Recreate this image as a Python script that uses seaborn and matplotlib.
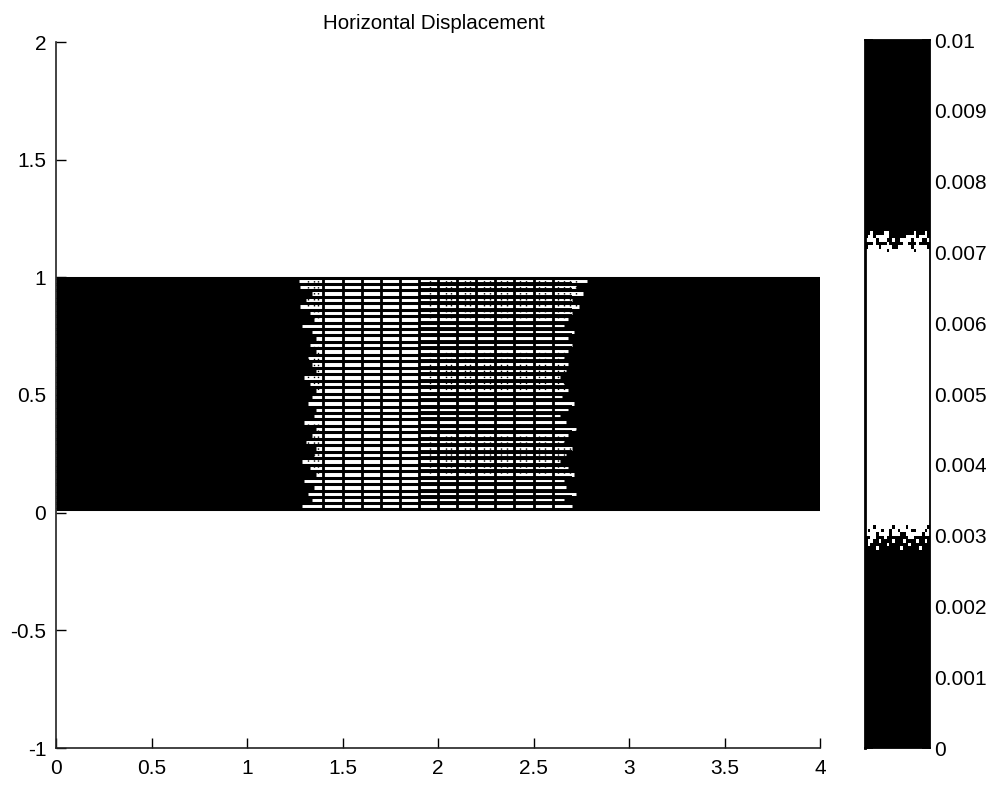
import matplotlib
matplotlib.use('Agg')
import matplotlib.pyplot as plt
import numpy as np
import pandas as pd
import seaborn as sns

sns.set_theme(style='white')
plt.rcParams['font.family'] = ['Liberation Sans', 'DejaVu Sans']
plt.rcParams['lines.solid_capstyle'] = 'butt'

title = 'Horizontal Displacement'

# mesh lines
col_x = [1.40, 1.50, 1.60, 1.70, 1.80, 1.90, 2.00, 2.10, 2.20, 2.30, 2.40, 2.50, 2.60]
row_y = [0.016, 0.039, 0.067, 0.094, 0.122, 0.149, 0.177, 0.204, 0.232, 0.259,
         0.286, 0.314, 0.341, 0.369, 0.396, 0.424, 0.451, 0.479, 0.506, 0.533,
         0.561, 0.588, 0.616, 0.643, 0.671, 0.698, 0.726, 0.753, 0.781, 0.808,
         0.835, 0.863, 0.890, 0.918, 0.945, 0.973, 0.996]
# where the solid black stops in each gap between rows, bottom to top
left_edge = [1.29, 1.34, 1.32, 1.35, 1.30, 1.36, 1.33, 1.29, 1.35, 1.36, 1.31, 1.34,
             1.36, 1.30, 1.35, 1.36, 1.32, 1.34, 1.36, 1.33, 1.30, 1.36, 1.34, 1.32,
             1.36, 1.33, 1.36, 1.34, 1.29, 1.35, 1.33, 1.28, 1.31, 1.34, 1.28, 1.27]
right_edge = [2.70, 2.66, 2.72, 2.67, 2.66, 2.71, 2.68, 2.64, 2.67, 2.70, 2.66, 2.68,
              2.72, 2.67, 2.64, 2.68, 2.71, 2.65, 2.68, 2.66, 2.64, 2.67, 2.68, 2.66,
              2.68, 2.70, 2.68, 2.71, 2.66, 2.68, 2.70, 2.74, 2.70, 2.76, 2.72, 2.78]
# broken-up look of the mesh towards the right, dotted vertical streaks
speck_x = [1.32, 1.35, 1.37, 1.96, 2.04, 2.07, 2.14, 2.17, 2.24, 2.27, 2.33, 2.36,
           2.43, 2.46, 2.53, 2.56, 2.63, 2.66, 2.69, 2.72]
x_end = 4.0
thick_from = 1.90

x_ticks = [0, 0.5, 1, 1.5, 2, 2.5, 3, 3.5, 4]
x_labels = ['0', '0.5', '1', '1.5', '2', '2.5', '3', '3.5', '4']
y_ticks = [-1, -0.5, 0, 0.5, 1, 1.5, 2]
y_labels = ['-1', '-0.5', '0', '0.5', '1', '1.5', '2']

# colorbar: solid bands, then the speckled change-overs cell by cell
band_lo = [0, 0.00315, 0.00715]
band_hi = [0.00315, 0.00715, 0.01]
band_grey = [0.0, 1.0, 0.0]
upper_y = [0.0070, 0.00705, 0.0071, 0.00715, 0.0072, 0.00725, 0.0073]
upper_cells = [[1, 1, 1, 1, 1, 1, 1, 1, 0, 1, 1, 1, 1, 1, 1, 1, 1, 1, 0, 1, 1, 1, 1, 1],
               [0, 1, 1, 1, 1, 0, 1, 1, 1, 1, 0, 0, 1, 1, 1, 1, 1, 0, 1, 1, 1, 1, 1, 0],
               [0, 0, 0, 1, 0, 0, 0, 0, 1, 0, 0, 0, 0, 0, 1, 1, 0, 0, 0, 1, 0, 0, 0, 0],
               [1, 1, 1, 1, 0, 1, 1, 1, 0, 0, 1, 0, 0, 1, 1, 1, 1, 0, 1, 1, 1, 0, 0, 1],
               [0, 1, 1, 0, 1, 1, 1, 1, 1, 0, 0, 0, 0, 0, 0, 1, 1, 1, 1, 0, 1, 1, 1, 0],
               [0, 0, 1, 0, 0, 0, 0, 1, 1, 0, 0, 0, 0, 0, 0, 0, 0, 0, 1, 0, 0, 0, 1, 0]]
lower_y = [0.0028, 0.00285, 0.0029, 0.00295, 0.0030, 0.00305, 0.0031, 0.00315]
lower_cells = [[0, 0, 0, 0, 1, 0, 0, 0, 0, 0, 0, 0, 0, 1, 0, 0, 0, 0, 0, 0, 1, 0, 0, 0],
               [0, 1, 0, 0, 0, 0, 0, 0, 1, 0, 0, 0, 0, 0, 0, 0, 1, 0, 0, 0, 0, 0, 0, 0],
               [0, 1, 1, 0, 0, 1, 0, 0, 0, 0, 1, 0, 0, 0, 1, 0, 0, 0, 0, 1, 0, 0, 1, 0],
               [0, 0, 1, 1, 0, 0, 0, 1, 0, 0, 0, 0, 0, 0, 0, 0, 1, 1, 0, 0, 0, 0, 0, 0],
               [1, 1, 1, 1, 0, 1, 1, 1, 1, 0, 1, 1, 1, 0, 0, 1, 1, 1, 1, 1, 1, 0, 1, 1],
               [1, 0, 1, 1, 1, 1, 0, 1, 1, 0, 1, 1, 0, 1, 1, 1, 1, 0, 0, 1, 1, 1, 0, 1],
               [1, 1, 1, 0, 1, 1, 1, 1, 1, 1, 0, 1, 1, 1, 1, 0, 1, 1, 1, 1, 1, 1, 1, 0]]
cbar_ticks = [0, 0.001, 0.002, 0.003, 0.004, 0.005, 0.006, 0.007, 0.008, 0.009, 0.01]
cbar_labels = ['0', '0.001', '0.002', '0.003', '0.004', '0.005', '0.006', '0.007', '0.008', '0.009', '0.01']


def draw_segments(ax, x0, x1, y0, y1, lw, **kw):
    rows = []
    for i in range(len(x0)):
        rows.append({'line': i, 'x': x0[i], 'y': y0[i]})
        rows.append({'line': i, 'x': x1[i], 'y': y1[i]})
    sns.lineplot(data=pd.DataFrame(rows), x='x', y='y', units='line', estimator=None,
                 color='black', lw=lw, ax=ax, **kw)


fig = plt.figure(figsize=(9.96, 7.85), dpi=100)
ax = fig.add_axes([56 / 996, 37 / 785, 764 / 996, 706 / 785])

n_col = len(col_x)
n_row = len(row_y)
draw_segments(ax, col_x, col_x, [row_y[0]] * n_col, [row_y[-1]] * n_col, 2.0)
draw_segments(ax, [0] * n_row, [x_end] * n_row, row_y, row_y, 2.2)
# rows get heavier right of the middle
inner = row_y[1:-1]
draw_segments(ax, [thick_from] * len(inner), [right_edge[0]] * len(inner), inner, inner, 2.8)
draw_segments(ax, speck_x, speck_x, [row_y[0]] * len(speck_x), [row_y[-1]] * len(speck_x), 1.0,
              linestyle=(0, (1, 3.3)))

# solid black blocks at both ends, filled gap by gap
mids = [(row_y[i] + row_y[i + 1]) / 2 for i in range(n_row - 1)]
draw_segments(ax, [0] * len(mids), left_edge, mids, mids, 3.8)
draw_segments(ax, right_edge, [x_end] * len(mids), mids, mids, 3.8)

ax.set_xlim(0, 4)
ax.set_ylim(-1, 2)
ax.set_xticks(x_ticks)
ax.set_xticklabels(x_labels)
ax.set_yticks(y_ticks)
ax.set_yticklabels(y_labels)
ax.set_xlabel('')
ax.set_ylabel('')
ax.tick_params(direction='in', length=7, width=1, colors='black', labelsize=15,
               bottom=True, left=True, top=False, right=False)
ax.tick_params(axis='x', pad=8)
ax.tick_params(axis='y', pad=7)
sns.despine(ax=ax)
for s in ['left', 'bottom']:
    ax.spines[s].set_color('#222222')
    ax.spines[s].set_linewidth(1.2)
ax.set_title(title, fontsize=14.8, color='black', x=0.494, y=1.006)

# colorbar
cax = fig.add_axes([865 / 996, 37 / 785, 65 / 996, 708 / 785])
for lo, hi, g in zip(band_lo, band_hi, band_grey):
    cax.barh((lo + hi) / 2, 1, height=hi - lo, left=0, color=str(g), lw=0)
cell_x = np.arange(25) / 24
cax.pcolormesh(cell_x, upper_y, upper_cells, cmap='gray', vmin=0, vmax=1)
cax.pcolormesh(cell_x, lower_y, lower_cells, cmap='gray', vmin=0, vmax=1)
cax.set_xlim(0, 1)
cax.set_ylim(0, 0.01)
cax.set_xticks([])
cax.set_yticks(cbar_ticks)
cax.set_yticklabels(cbar_labels)
cax.yaxis.tick_right()
cax.tick_params(axis='y', direction='in', length=6, width=1.2, colors='black', labelsize=15, pad=3,
                left=True, right=True)
for s in cax.spines.values():
    s.set_visible(True)
    s.set_color('black')
    s.set_linewidth(1.3)
cax.spines['left'].set_linewidth(2)

fig.savefig('out.png', dpi=100)
